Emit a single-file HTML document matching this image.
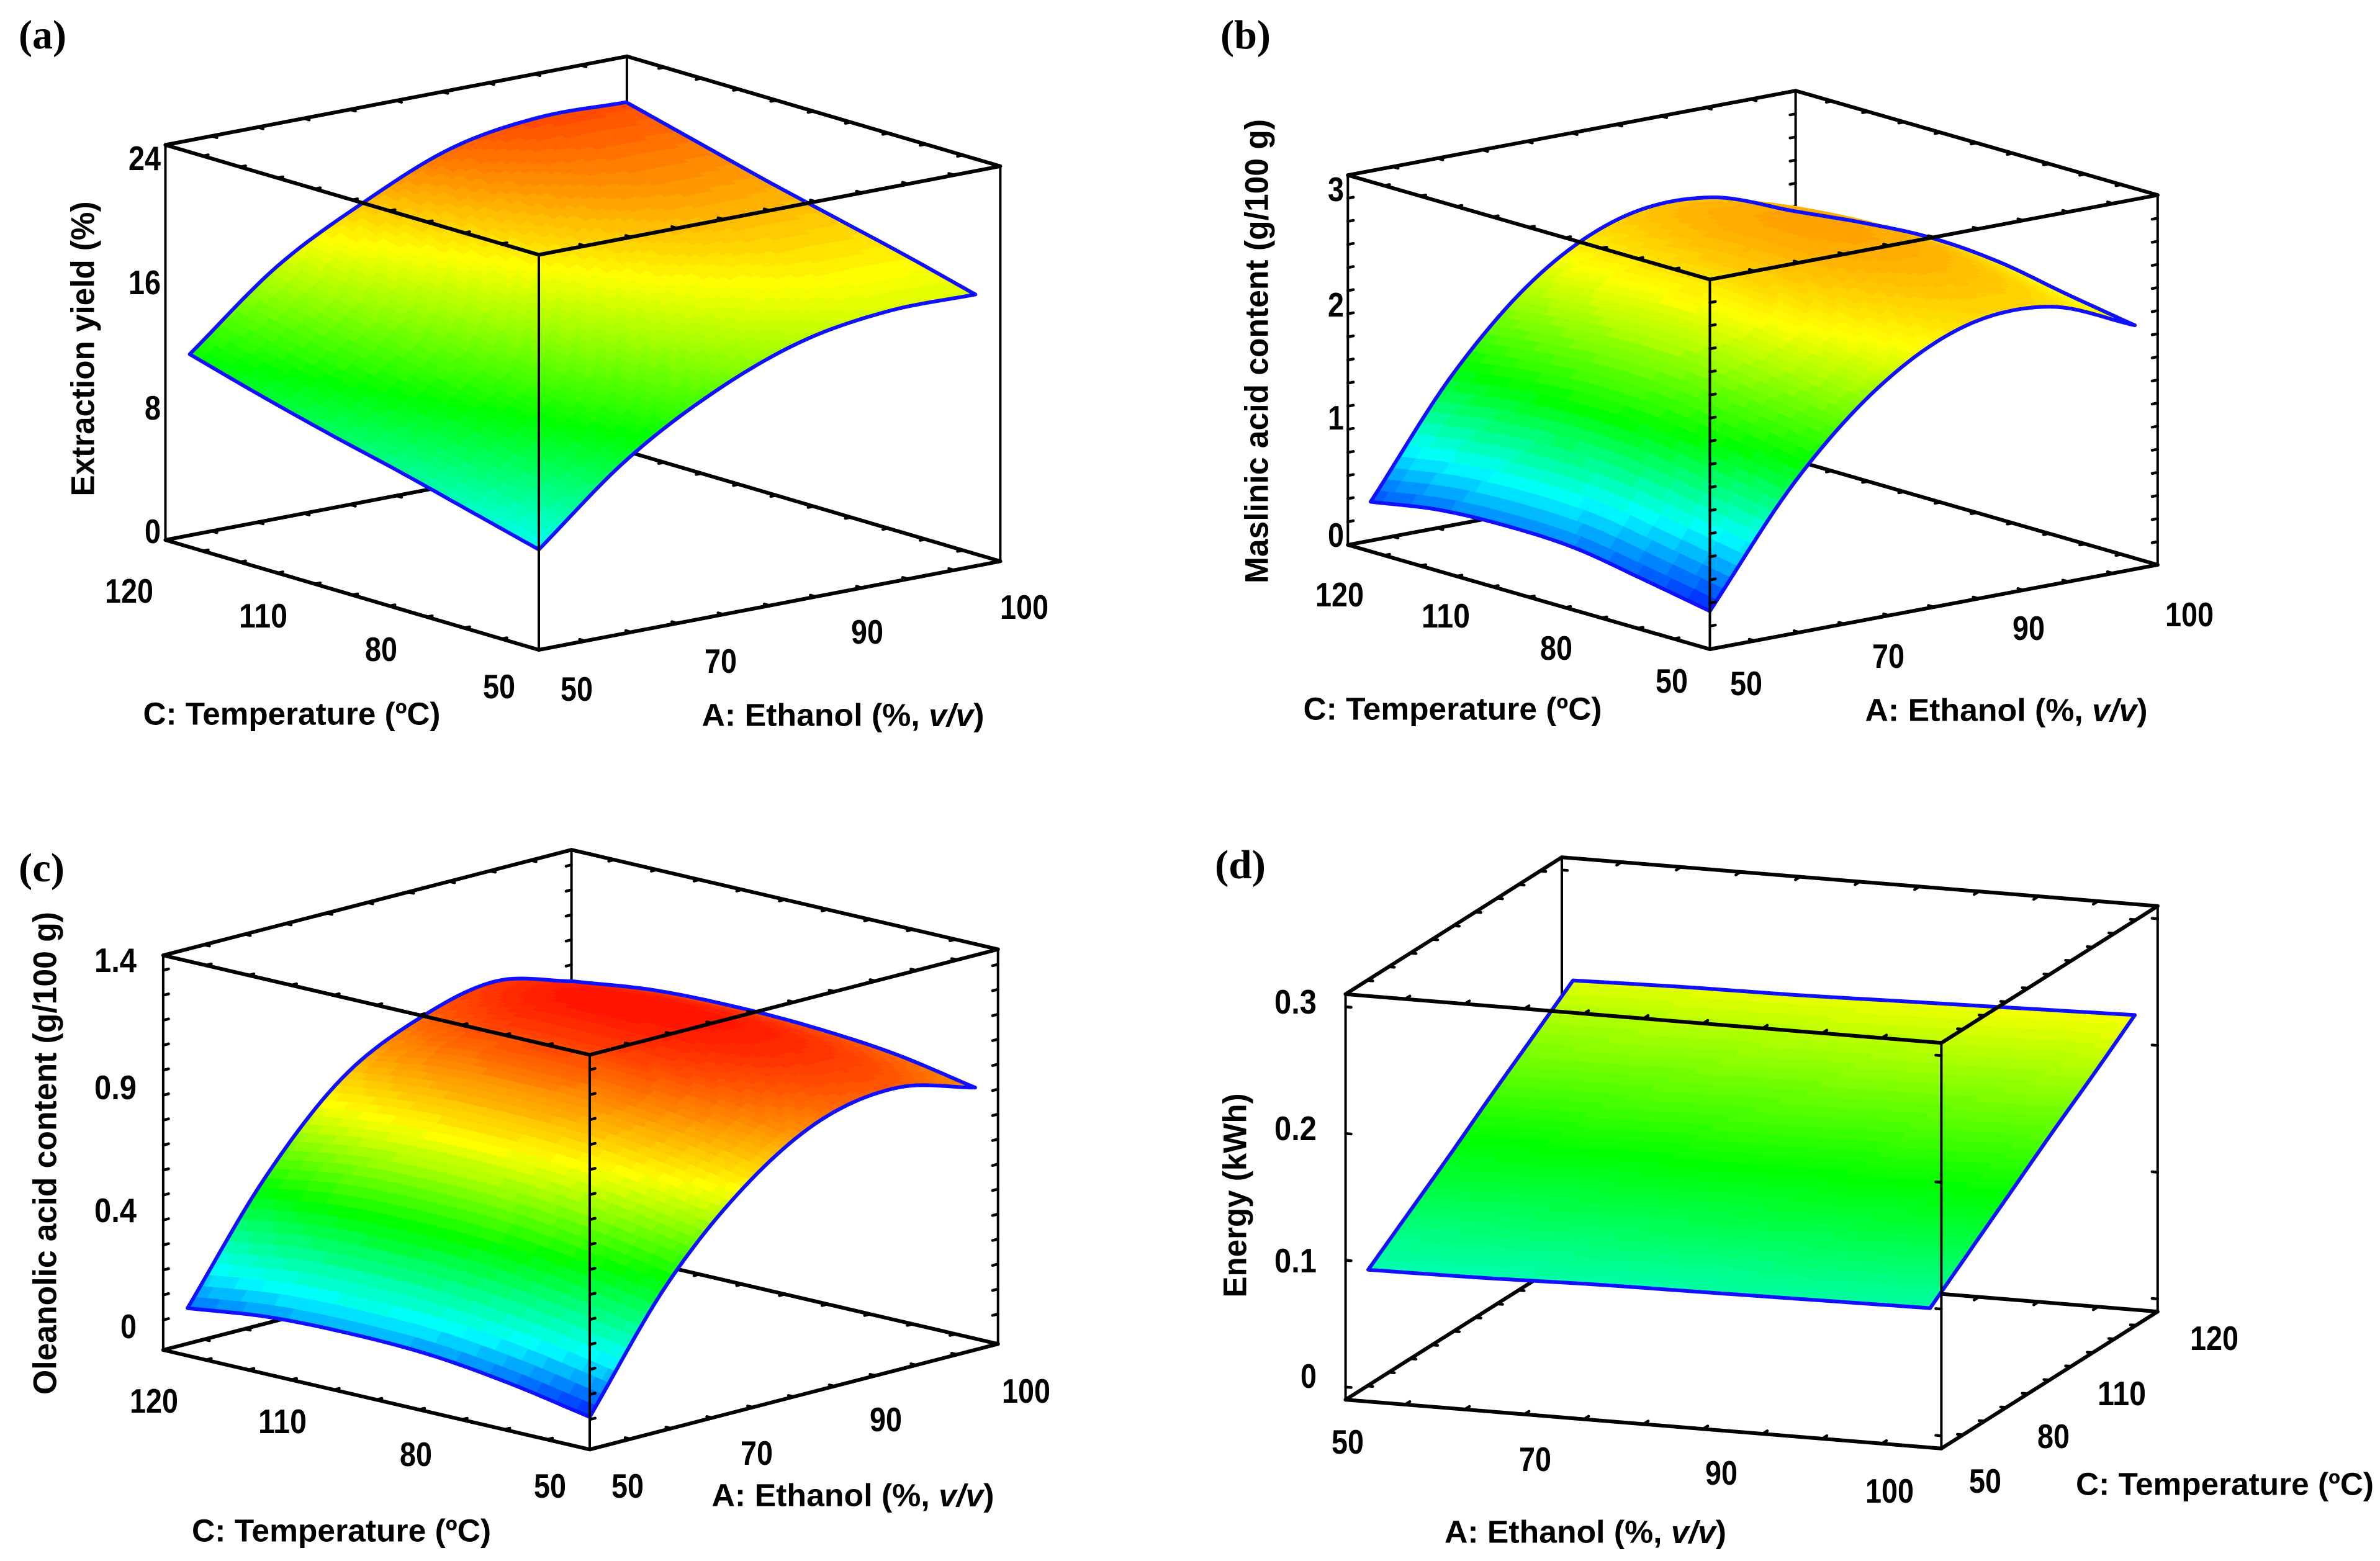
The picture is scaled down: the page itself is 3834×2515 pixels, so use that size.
<!DOCTYPE html>
<html lang="en">
<head>
<meta charset="utf-8">
<title>Response surface plots</title>
<style>
html,body{margin:0;padding:0;background:#fff;}
svg{display:block;}
.t{font-family:"Liberation Sans",sans-serif;font-weight:bold;font-size:51px;fill:#000;text-anchor:middle;dominant-baseline:central;}
.y{font-size:53px;}
.n{font-family:"Liberation Sans",sans-serif;font-weight:bold;font-size:55px;fill:#000;text-anchor:middle;dominant-baseline:central;}
.l{font-family:"Liberation Serif",serif;font-weight:bold;font-size:66px;fill:#000;}
</style>
</head>
<body>
<svg id="figure" xmlns="http://www.w3.org/2000/svg" width="3834" height="2515" viewBox="0 0 3834 2515">
<rect x="0" y="0" width="3834" height="2515" fill="#fff"/>
<g id="marks"></g>
<g>
<text class="l" x="30" y="78" textLength="77" lengthAdjust="spacingAndGlyphs">(a)</text>
<text class="t y" transform="translate(134,562) rotate(-90)" textLength="475" lengthAdjust="spacingAndGlyphs">Extraction yield (%)</text>
<text class="t" x="470" y="1150" textLength="479" lengthAdjust="spacingAndGlyphs">C: Temperature (ºC)</text>
<text class="t" x="1358" y="1152" textLength="455" lengthAdjust="spacingAndGlyphs">A: Ethanol (%, <tspan font-style="italic">v/v</tspan>)</text>
</g>
<g>
<text class="l" x="1966" y="78" textLength="81" lengthAdjust="spacingAndGlyphs">(b)</text>
<text class="t y" transform="translate(2025,566) rotate(-90)" textLength="748" lengthAdjust="spacingAndGlyphs">Maslinic acid content (g/100 g)</text>
<text class="t" x="2340" y="1142" textLength="481" lengthAdjust="spacingAndGlyphs">C: Temperature (ºC)</text>
<text class="t" x="3232" y="1144" textLength="455" lengthAdjust="spacingAndGlyphs">A: Ethanol (%, <tspan font-style="italic">v/v</tspan>)</text>
</g>
<g>
<text class="l" x="30" y="1420" textLength="74" lengthAdjust="spacingAndGlyphs">(c)</text>
<text class="t y" transform="translate(73,1858) rotate(-90)" textLength="778" lengthAdjust="spacingAndGlyphs">Oleanolic acid content (g/100 g)</text>
<text class="t" x="550" y="2466" textLength="482" lengthAdjust="spacingAndGlyphs">C: Temperature (ºC)</text>
<text class="t" x="1374" y="2409" textLength="455" lengthAdjust="spacingAndGlyphs">A: Ethanol (%, <tspan font-style="italic">v/v</tspan>)</text>
</g>
<g>
<text class="l" x="1957" y="1415" textLength="82" lengthAdjust="spacingAndGlyphs">(d)</text>
<text class="t y" transform="translate(1990,1926) rotate(-90)" textLength="329" lengthAdjust="spacingAndGlyphs">Energy (kWh)</text>
<text class="t" x="2554" y="2468" textLength="454" lengthAdjust="spacingAndGlyphs">A: Ethanol (%, <tspan font-style="italic">v/v</tspan>)</text>
<text class="t" x="3584" y="2391" textLength="480" lengthAdjust="spacingAndGlyphs">C: Temperature (ºC)</text>
</g>
</svg>
<script>
// ---- Data ----
const ethanolLevels = [50, 60, 70, 80, 90, 100];
const temperatureLevels = [50, 64, 78, 92, 106, 120];

// rows: temperatureLevels, columns: ethanolLevels
const extractionYield = [
  [6.5, 11.2, 14.5, 16.7, 17.6, 17.6],
  [7.7, 12.4, 15.7, 17.9, 18.8, 18.8],
  [8.9, 13.5, 16.8, 19.1, 20.0, 19.9],
  [10.0, 14.7, 18.0, 20.3, 21.2, 21.0],
  [11.2, 15.9, 19.1, 21.4, 22.3, 22.2],
  [12.5, 17.1, 20.2, 22.6, 23.5, 23.4]
];
const maslinicContent = [
  [0.33, 1.31, 2.00, 2.38, 2.41, 2.11],
  [0.44, 1.42, 2.11, 2.49, 2.52, 2.21],
  [0.54, 1.52, 2.21, 2.59, 2.62, 2.32],
  [0.56, 1.55, 2.24, 2.62, 2.65, 2.36],
  [0.53, 1.51, 2.20, 2.58, 2.61, 2.32],
  [0.43, 1.43, 2.13, 2.49, 2.51, 2.25]
];
const oleanolicContent = [
  [0.01, 0.46, 0.77, 0.96, 1.01, 0.93],
  [0.07, 0.52, 0.83, 1.02, 1.07, 0.99],
  [0.11, 0.56, 0.87, 1.06, 1.11, 1.02],
  [0.12, 0.57, 0.88, 1.07, 1.12, 1.03],
  [0.11, 0.56, 0.87, 1.06, 1.11, 1.02],
  [0.07, 0.51, 0.83, 0.99, 1.06, 0.98]
];
const energyUse = [
  [0.094, 0.095, 0.097, 0.098, 0.099, 0.100],
  [0.119, 0.120, 0.122, 0.123, 0.125, 0.126],
  [0.144, 0.145, 0.147, 0.148, 0.150, 0.152],
  [0.170, 0.171, 0.173, 0.174, 0.176, 0.178],
  [0.195, 0.196, 0.198, 0.200, 0.201, 0.203],
  [0.220, 0.222, 0.223, 0.225, 0.227, 0.229]
];

// Tick labels
const ethanolTickLabels = ['50', '70', '90', '100'];
const temperatureTickLabels = ['50', '80', '110', '120'];
const yieldTicks = [0, 8, 16, 24];
const maslinicTicks = [0, 1, 2, 3];
const oleanolicTicks = [0, 0.4, 0.9, 1.4];
const energyTicks = [0, 0.1, 0.2, 0.3];

// ---- Layout (box geometry, not data) ----
const panels = [
  {id:'a', values:extractionYield, ticks:yieldTicks, zDomain:[0,25.6], zStep:0,
   origin:[868,1047], ea:[743.4,-142.7], ec:[-601.5,-177], height:636.5,
   aRange:[0,0.946], cRange:[0,0.935], front:[0,0],
   colorStops:[0.5,6.3,12.3,18.5,25.5],
   zLabelX:259, zLabelY:[856,657,455,255],
   aLabels:[[929,1110],[1161,1065],[1397,1018],[1650,978]],
   cLabels:[[804,1106],[614,1046],[424,992],[208,952]]},
  {id:'b', values:maslinicContent, ticks:maslinicTicks, zDomain:[0,3.2], zStep:0.2,
   origin:[2754.5,1046], ea:[721.3,-136], ec:[-583.2,-168.1], height:595.7,
   aRange:[0,0.949], cRange:[0,0.937], front:[0,0],
   colorStops:[0.25,0.85,1.45,2.25,3.43],
   zLabelX:2165, zLabelY:[862,673,491,305],
   aLabels:[[2813,1101],[3042,1057],[3268,1012],[3527,990]],
   cLabels:[[2693,1097],[2507,1044],[2329,992],[2158,958]]},
  {id:'c', values:oleanolicContent, ticks:oleanolicTicks, zDomain:[-0.12,1.46], zStep:0.1,
   origin:[950,2335.3], ea:[657.7,-170], ec:[-687.1,-160.3], height:635.8,
   aRange:[0,0.944], cRange:[0,0.943], front:[0,0],
   colorStops:[-0.02,0.2,0.48,0.76,1.15],
   zLabelX:220, zLabelY:[2137,1950,1752,1547],
   aLabels:[[1011,2394],[1219,2341],[1427,2287],[1653,2241]],
   cLabels:[[886,2394],[670,2343],[455,2290],[248,2257]]},
  {id:'d', values:energyUse, ticks:energyTicks, zDomain:[-0.01,0.31], zStep:0.1,
   origin:[2167.6,2255.1], ea:[959.8,78.6], ec:[348.4,-220.5], height:653.4,
   aRange:[0.038,0.981], cRange:[0,0.947], front:[1,0],
   colorStops:[-0.01,0.07,0.15,0.23,0.31],
   zLabelX:2121, zLabelY:[2217,2031,1818,1614],
   aLabels:[[2171,2323],[2473,2351],[2773,2373],[3044,2402]],
   cLabels:[[3198,2386],[3308,2314],[3418,2245],[3567,2156]]}
];

const SVGNS = 'http://www.w3.org/2000/svg';
const SUB = 60;         // render subdivisions of the surface
const BANDS = 72;       // discrete colour levels
const COLORS = [[0,0,255],[0,255,255],[0,255,0],[255,255,0],[255,0,0]];

function mk(tag, parent, attrs) {
  const el = document.createElementNS(SVGNS, tag);
  for (const k in attrs) el.setAttribute(k, attrs[k]);
  parent.appendChild(el);
  return el;
}

// Axis functions
function scaleA(p, a) {
  const lo = ethanolLevels[0], hi = ethanolLevels[ethanolLevels.length - 1];
  return p.aRange[0] + (p.aRange[1] - p.aRange[0]) * (a - lo) / (hi - lo);
}
function scaleC(p, c) {
  const lo = temperatureLevels[0], hi = temperatureLevels[temperatureLevels.length - 1];
  return p.cRange[0] + (p.cRange[1] - p.cRange[0]) * (c - lo) / (hi - lo);
}
function scaleZ(p, z) {
  return (z - p.zDomain[0]) / (p.zDomain[1] - p.zDomain[0]);
}
function place(p, fa, fc, fz) {
  return [p.origin[0] + fa * p.ea[0] + fc * p.ec[0],
          p.origin[1] + fa * p.ea[1] + fc * p.ec[1] - fz * p.height];
}

// Smooth rendering between the read values
function catmull(a, b, c, d, t) {
  return 0.5 * (2 * b + (c - a) * t + (2 * a - 5 * b + 4 * c - d) * t * t + (3 * b - a - 3 * c + d) * t * t * t);
}
function sampleRow(row, x) {
  const n = row.length - 1;
  const i = Math.min(Math.floor(x), n - 1);
  const t = x - i;
  const p0 = i > 0 ? row[i - 1] : 2 * row[0] - row[1];
  const p3 = i + 2 <= n ? row[i + 2] : 2 * row[n] - row[n - 1];
  return catmull(p0, row[i], row[i + 1], p3, t);
}
function sampleSurface(m, x, y) {
  const col = m.map(function (r) { return sampleRow(r, x); });
  return sampleRow(col, y);
}
function colorFor(p, z) {
  const s = p.colorStops;
  const lo = s[0], hi = s[s.length - 1];
  const q = Math.round((Math.min(hi, Math.max(lo, z)) - lo) / (hi - lo) * BANDS) / BANDS * (hi - lo) + lo;
  let k = 0;
  while (k < s.length - 2 && q > s[k + 1]) k++;
  const t = (q - s[k]) / (s[k + 1] - s[k]);
  const c = [0, 1, 2].map(function (n) { return Math.round(COLORS[k][n] + (COLORS[k + 1][n] - COLORS[k][n]) * t); });
  return 'rgb(' + c.join(',') + ')';
}

function drawLine(parent, a, b, width, name) {
  const el = mk('line', parent, {x1:a[0], y1:a[1], x2:b[0], y2:b[1], stroke:'#000', 'stroke-width':width, 'stroke-linecap':'round'});
  
  
  return el;
}

function drawEdgeTicks(parent, p, from, to, inward, count, name) {
  const len = Math.hypot(inward[0], inward[1]) || 1;
  const ux = inward[0] / len * 9, uy = inward[1] / len * 9;
  for (let k = 1; k < count; k++) {
    const x = from[0] + (to[0] - from[0]) * k / count;
    const y = from[1] + (to[1] - from[1]) * k / count;
    drawLine(parent, [x, y], [x + ux, y + uy], 4.5, name);
  }
}

function drawBox(p, back, front) {
  const fa = p.front[0], fc = p.front[1];
  [0, 1].forEach(function (top) {
    [0, 1].forEach(function (c) {
      const g = c === fc ? front : back;
      const p1 = place(p, 0, c, top), p2 = place(p, 1, c, top);
      drawLine(g, p1, p2, 6, 'box-edge-ethanol');
      const dir = c === 0 ? p.ec : [-p.ec[0], -p.ec[1]];
      drawEdgeTicks(g, p, p1, p2, dir, 10, 'ethanol-tick');
    });
    [0, 1].forEach(function (a) {
      const g = a === fa ? front : back;
      const p1 = place(p, a, 0, top), p2 = place(p, a, 1, top);
      drawLine(g, p1, p2, 6, 'box-edge-temperature');
      const dir = a === 0 ? p.ea : [-p.ea[0], -p.ea[1]];
      drawEdgeTicks(g, p, p1, p2, dir, 10, 'temperature-tick');
    });
  });
  [[0, 0], [0, 1], [1, 0], [1, 1]].forEach(function (cr) {
    const g = (cr[0] === fa && cr[1] === fc) ? front : back;
    const b = place(p, cr[0], cr[1], 0), t = place(p, cr[0], cr[1], 1);
    drawLine(g, b, t, 4, 'box-edge-vertical');
    if (p.zStep > 0) {
      const sign = cr[0] === 0 ? 1 : -1;
      for (let z = p.ticks[0]; z <= p.zDomain[1] + 1e-9; z += p.zStep) {
        const pt = place(p, cr[0], cr[1], scaleZ(p, z));
        const ux = p.ea[0] / Math.hypot(p.ea[0], p.ea[1]) * 9 * sign;
        const uy = p.ea[1] / Math.hypot(p.ea[0], p.ea[1]) * 9 * sign;
        drawLine(g, pt, [pt[0] + ux, pt[1] + uy], 4.5, 'z-tick');
      }
    }
  });
}

function surfacePoint(p, x, y) {
  const n = ethanolLevels.length - 1, m = temperatureLevels.length - 1;
  const ia = Math.min(Math.floor(x), n - 1), ic = Math.min(Math.floor(y), m - 1);
  const a = ethanolLevels[ia] + (ethanolLevels[ia + 1] - ethanolLevels[ia]) * (x - ia);
  const c = temperatureLevels[ic] + (temperatureLevels[ic + 1] - temperatureLevels[ic]) * (y - ic);
  const z = sampleSurface(p.values, x, y);
  return {xy: place(p, scaleA(p, a), scaleC(p, c), scaleZ(p, z)), z: z};
}

function drawSurface(p, parent) {
  const n = ethanolLevels.length - 1, m = temperatureLevels.length - 1;
  const grid = [];
  for (let j = 0; j <= SUB; j++) {
    const row = [];
    for (let i = 0; i <= SUB; i++) row.push(surfacePoint(p, i / SUB * n, j / SUB * m));
    grid.push(row);
  }
  // painter's order: far cells first
  const fa = p.front[0], fc = p.front[1];
  for (let jj = 0; jj < SUB; jj++) {
    const j = fc === 0 ? SUB - 1 - jj : jj;
    for (let ii = 0; ii < SUB; ii++) {
      const i = fa === 0 ? SUB - 1 - ii : ii;
      const q = [grid[j][i], grid[j][i + 1], grid[j + 1][i + 1], grid[j + 1][i]];
      const zMean = (q[0].z + q[1].z + q[2].z + q[3].z) / 4;
      const col = colorFor(p, zMean);
      const cell = mk('polygon', parent, {
        points: q.map(function (v) { return v.xy[0].toFixed(1) + ',' + v.xy[1].toFixed(1); }).join(' '),
        fill: col, stroke: col, 'stroke-width': 1.2, 'stroke-linejoin': 'round'
      });
      
      
    }
  }
  // boundary
  const path = [];
  for (let i = 0; i <= SUB; i++) path.push(grid[0][i].xy);
  for (let j = 1; j <= SUB; j++) path.push(grid[j][SUB].xy);
  for (let i = SUB - 1; i >= 0; i--) path.push(grid[SUB][i].xy);
  for (let j = SUB - 1; j >= 0; j--) path.push(grid[j][0].xy);
  const edge = mk('polygon', parent, {
    points: path.map(function (v) { return v[0].toFixed(1) + ',' + v[1].toFixed(1); }).join(' '),
    fill: 'none', stroke: '#1010ff', 'stroke-width': 6, 'stroke-linejoin': 'round'
  });
  
  
}

function numberWidth(str) {
  let w = 0;
  for (const ch of str) w += ch === '.' ? 16 : 26;
  return w;
}

function drawLabels(p, parent) {
  p.ticks.forEach(function (tick, idx) {
    const s = String(tick);
    const t = mk('text', parent, {'class':'n', x:p.zLabelX, y:p.zLabelY[idx], textLength:numberWidth(s), lengthAdjust:'spacingAndGlyphs'});
    
    
    t.style.textAnchor = 'end';
    t.textContent = s;
  });
  ethanolTickLabels.forEach(function (lab, idx) {
    const t = mk('text', parent, {'class':'n', x:p.aLabels[idx][0], y:p.aLabels[idx][1], textLength:numberWidth(lab), lengthAdjust:'spacingAndGlyphs'});
    
    
    t.textContent = lab;
  });
  temperatureTickLabels.forEach(function (lab, idx) {
    const t = mk('text', parent, {'class':'n', x:p.cLabels[idx][0], y:p.cLabels[idx][1], textLength:numberWidth(lab), lengthAdjust:'spacingAndGlyphs'});
    
    
    t.textContent = lab;
  });
}

const marks = document.getElementById('marks');
panels.forEach(function (p) {
  const g = mk('g', marks, {});
  
  
  const back = mk('g', g, {});
  
  
  const surf = mk('g', g, {});
  
  
  const front = mk('g', g, {});
  
  
  const labels = mk('g', g, {});
  
  
  drawBox(p, back, front);
  drawSurface(p, surf);
  drawLabels(p, labels);
});
</script>
</body>
</html>
